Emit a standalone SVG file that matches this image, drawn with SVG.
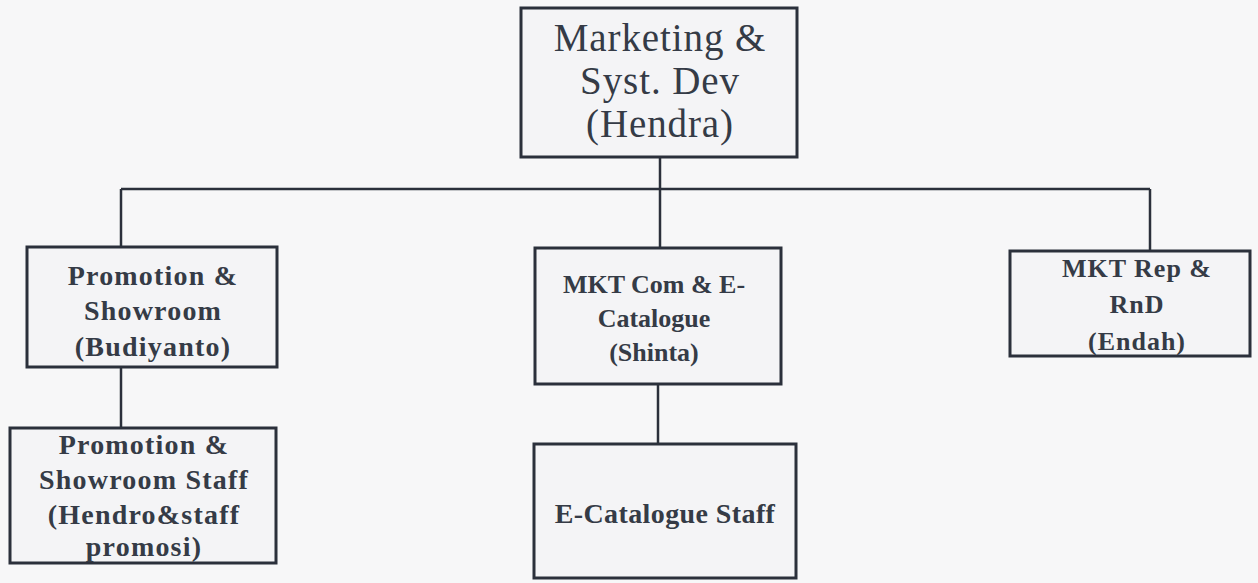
<svg xmlns="http://www.w3.org/2000/svg" width="1258" height="583" viewBox="0 0 1258 583">
<style>
.box{fill:#f4f4f6;stroke:#2b303b;stroke-width:3}
.ln{stroke:#2b303b;stroke-width:2.5;fill:none}
.t{font-family:"Liberation Serif","DejaVu Serif",serif;fill:#353b46;text-anchor:middle}
.big{font-size:39px;letter-spacing:0.9px}
.sm{font-size:28px;font-weight:bold;letter-spacing:1.2px}
.md{font-size:26px;font-weight:bold}
.rp{letter-spacing:1px}
.ec{letter-spacing:0.4px}
</style>
<rect width="1258" height="583" fill="#f7f7f8"/>
<g id="connectors">
<line class="ln" x1="660" y1="157" x2="660" y2="248"/>
<line class="ln" x1="121" y1="189" x2="1150" y2="189"/>
<line class="ln" x1="121" y1="189" x2="121" y2="247"/>
<line class="ln" x1="1150" y1="189" x2="1150" y2="251"/>
<line class="ln" x1="121" y1="367" x2="121" y2="428"/>
<line class="ln" x1="658" y1="384" x2="658" y2="444"/>
</g>
<g id="top">
<rect class="box" x="521" y="8" width="276" height="149"/>
<text class="t big" x="660" y="51">Marketing &amp;</text>
<text class="t big" x="660" y="94">Syst. Dev</text>
<text class="t big" x="660" y="137">(Hendra)</text>
</g>
<g id="promo">
<rect class="box" x="27" y="247" width="250" height="120"/>
<text class="t sm" x="153" y="285">Promotion &amp;</text>
<text class="t sm" x="153" y="320">Showroom</text>
<text class="t sm" x="153" y="356">(Budiyanto)</text>
</g>
<g id="promostaff">
<rect class="box" x="10" y="428" width="266" height="135"/>
<text class="t sm" x="144" y="454">Promotion &amp;</text>
<text class="t sm" x="144" y="489">Showroom Staff</text>
<text class="t sm" x="144" y="524">(Hendro&amp;staff</text>
<text class="t sm" x="144" y="556">promosi)</text>
</g>
<g id="mktcom">
<rect class="box" x="535" y="248" width="246" height="136"/>
<text class="t md" x="654" y="293">MKT Com &amp; E-</text>
<text class="t md" x="654" y="327">Catalogue</text>
<text class="t md" x="654" y="361">(Shinta)</text>
</g>
<g id="ecat">
<rect class="box" x="534" y="444" width="262" height="134"/>
<text class="t sm ec" x="665" y="523">E-Catalogue Staff</text>
</g>
<g id="mktrep">
<rect class="box" x="1010" y="251" width="240" height="105"/>
<text class="t md rp" x="1137" y="277">MKT Rep &amp;</text>
<text class="t md rp" x="1137" y="313">RnD</text>
<text class="t md rp" x="1137" y="350">(Endah)</text>
</g>
</svg>
